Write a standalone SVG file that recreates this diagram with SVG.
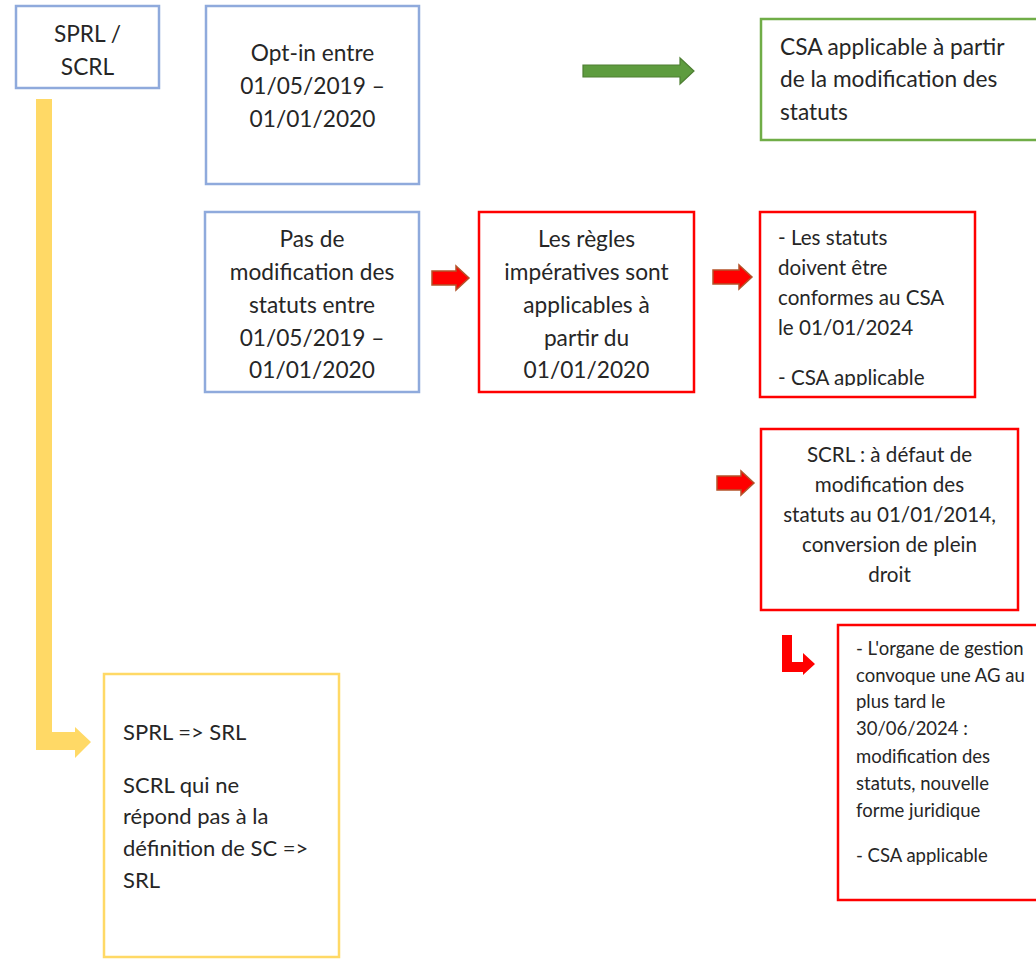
<svg xmlns="http://www.w3.org/2000/svg" width="1036" height="959" viewBox="0 0 1036 959">
<defs>
<style>
.t{font-family:Lato,"Liberation Sans",sans-serif;fill:#262626}
.c{text-anchor:middle}
.f22{font-size:22.7px}
.f20{font-size:20.6px}
.fy{font-size:22px}
.f17{font-size:18.5px}
.blue{fill:#fff;stroke:#8FAADC;stroke-width:2.5}
.red{fill:#fff;stroke:#F00;stroke-width:2.5}
.green{fill:#fff;stroke:#70AD47;stroke-width:2.5}
.yellow{fill:#fff;stroke:#FFD966;stroke-width:2.5}
.rarr{fill:#F00;stroke:#B4532A;stroke-width:1.5}
</style>
<clipPath id="clipA"><rect x="760" y="212" width="216" height="174"/></clipPath>
</defs>
<rect width="1036" height="959" fill="#fff"/>

<g id="connectors">
<path d="M36,99 H52 V732 H75 V727 L91,742 L75,758 V750 H36 Z" fill="#FFD966"/>
<path d="M583,65 H680 V58 L694,71 L680,84 V77 H583 Z" fill="#5E9C3F" stroke="#4E7F33" stroke-width="1.2"/>
<path d="M432,271 H456 V266 L469,278 L456,290 V285 H432 Z" class="rarr"/>
<path d="M713,270 H739 V265 L752,277 L739,289 V284 H713 Z" class="rarr"/>
<path d="M717,476 H741 V471 L754,483 L741,495 V490 H717 Z" class="rarr"/>
<path d="M782,635 H792 V662 H803 V653 L815,664 L803,675 V672 H782 Z" fill="#F00"/>
</g>

<g id="n-sprl">
<rect x="16" y="6" width="143" height="82" class="blue"/>
<text class="t c f22" x="87.5" y="42">SPRL /</text>
<text class="t c f22" x="87.5" y="75">SCRL</text>
</g>

<g id="n-optin">
<rect x="206" y="6" width="213" height="178" class="blue"/>
<text class="t c f22" x="312.5" y="61">Opt-in entre</text>
<text class="t c f22" x="312.5" y="94">01/05/2019 –</text>
<text class="t c f22" x="312.5" y="127">01/01/2020</text>
</g>

<g id="n-csa">
<rect x="761" y="19" width="290" height="121" class="green"/>
<text class="t f22" x="780" y="55">CSA applicable à partir</text>
<text class="t f22" x="780" y="87">de la modification des</text>
<text class="t f22" x="780" y="120">statuts</text>
</g>

<g id="n-pas">
<rect x="205" y="212" width="214" height="180" class="blue"/>
<text class="t c f22" x="312" y="247">Pas de</text>
<text class="t c f22" x="312" y="280">modification des</text>
<text class="t c f22" x="312" y="313">statuts entre</text>
<text class="t c f22" x="312" y="346">01/05/2019 –</text>
<text class="t c f22" x="312" y="378">01/01/2020</text>
</g>

<g id="n-regles">
<rect x="479" y="212" width="215" height="180" class="red"/>
<text class="t c f22" x="586.5" y="247">Les règles</text>
<text class="t c f22" x="586.5" y="280">impératives sont</text>
<text class="t c f22" x="586.5" y="313">applicables à</text>
<text class="t c f22" x="586.5" y="346">partir du</text>
<text class="t c f22" x="586.5" y="378">01/01/2020</text>
</g>

<g id="n-statuts">
<rect x="760" y="212" width="215" height="185" class="red"/>
<g clip-path="url(#clipA)">
<text class="t f20" x="778" y="245">- Les statuts</text>
<text class="t f20" x="778" y="275">doivent être</text>
<text class="t f20" x="778" y="305">conformes au CSA</text>
<text class="t f20" x="778" y="335">le 01/01/2024</text>
<text class="t f20" x="778" y="385">- CSA applicable</text>
</g>
</g>

<g id="n-scrl">
<rect x="761" y="429" width="257" height="181" class="red"/>
<text class="t c f20" x="889.5" y="462">SCRL : à défaut de</text>
<text class="t c f20" x="889.5" y="492">modification des</text>
<text class="t c f20" x="889.5" y="522">statuts au 01/01/2014,</text>
<text class="t c f20" x="889.5" y="552">conversion de plein</text>
<text class="t c f20" x="889.5" y="582">droit</text>
</g>

<g id="n-organe">
<rect x="838" y="625" width="210" height="275" class="red"/>
<text class="t f17" x="856" y="655">- L'organe de gestion</text>
<text class="t f17" x="856" y="682">convoque une AG au</text>
<text class="t f17" x="856" y="708">plus tard le</text>
<text class="t f17" x="856" y="735">30/06/2024 :</text>
<text class="t f17" x="856" y="763">modification des</text>
<text class="t f17" x="856" y="790">statuts, nouvelle</text>
<text class="t f17" x="856" y="817">forme juridique</text>
<text class="t f17" x="856" y="862">- CSA applicable</text>
</g>

<g id="n-srl">
<rect x="104" y="674" width="235" height="283" class="yellow"/>
<text class="t fy" x="123" y="740">SPRL =&gt; SRL</text>
<text class="t fy" x="123" y="793">SCRL qui ne</text>
<text class="t fy" x="123" y="824">répond pas à la</text>
<text class="t fy" x="123" y="856">définition de SC =&gt;</text>
<text class="t fy" x="123" y="888">SRL</text>
</g>
</svg>
